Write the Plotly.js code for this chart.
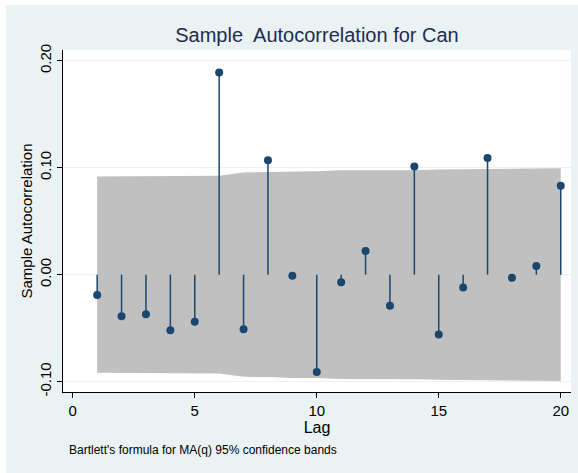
<!DOCTYPE html>
<html>
<head>
<meta charset="utf-8">
<script src="https://cdn.plot.ly/plotly-3.0.1.min.js"></script>
<style>
  html, body { margin: 0; padding: 0; background: #ffffff; }
  #chart { position: absolute; left: 6px; top: 5px; width: 572px; height: 468px; }
</style>
</head>
<body>
<div id="chart"></div>
<script>
// Lags
const lags = [1,2,3,4,5,6,7,8,9,10,11,12,13,14,15,16,17,18,19,20];
// Sample autocorrelation values
const acf = [-0.019,-0.039,-0.037,-0.052,-0.044,0.189,-0.051,0.107,-0.001,-0.091,
             -0.007,0.022,-0.029,0.101,-0.056,-0.012,0.109,-0.003,0.008,0.083];
// Half-width of Bartlett 95% confidence band at each lag
const band = [0.0918,0.0919,0.0920,0.0921,0.0922,0.0924,0.0955,0.0957,0.0966,0.0967,
              0.0975,0.0975,0.0976,0.0977,0.0983,0.0985,0.0987,0.0993,0.0993,0.0995];
// Tick labels
const yTickVals = [-0.1, 0, 0.1, 0.2];
const yTickText = ['-0.10', '0.00', '0.10', '0.20'];
const xTickVals = [0, 5, 10, 15, 20];

const navy = '#1a476f';

const bandX = lags.concat(lags.slice().reverse());
const bandY = band.concat(band.slice().reverse().map(v => -v));

const stemX = [], stemY = [];
lags.forEach((l, i) => { stemX.push(l, l, null); stemY.push(0, acf[i], null); });

const traces = [
  { x: bandX, y: bandY, type: 'scatter', mode: 'lines', fill: 'toself',
    fillcolor: '#c0c0c0', line: { width: 0, color: '#c0c0c0' }, hoverinfo: 'skip', showlegend: false },
  { x: stemX, y: stemY, type: 'scatter', mode: 'lines',
    line: { color: navy, width: 1.5 }, hoverinfo: 'skip', showlegend: false },
  { x: lags, y: acf, type: 'scatter', mode: 'markers',
    marker: { color: navy, size: 8 }, showlegend: false }
];

const layout = {
  width: 572, height: 468,
  paper_bgcolor: '#eaf2f3', plot_bgcolor: '#ffffff',
  margin: { l: 57, r: 7, t: 45, b: 81 },
  font: { family: 'Arial, "Liberation Sans", sans-serif', color: '#000000' },
  title: { text: 'Sample  Autocorrelation for Can', font: { size: 20, color: '#1e2d52' },
           x: 0.5, xref: 'paper', xanchor: 'center', y: 1, yref: 'container', yanchor: 'top', pad: { t: 23 } },
  xaxis: {
    range: [-0.4, 20.42], tickvals: xTickVals, ticks: 'outside', ticklen: 5, tickcolor: '#000',
    showline: true, linecolor: '#000', linewidth: 1, showgrid: false, zeroline: false,
    tickfont: { size: 15 },
    title: { text: 'Lag', font: { size: 16 }, standoff: 2 }
  },
  yaxis: {
    range: [-0.1097, 0.2100], tickvals: yTickVals, ticktext: yTickText, tickangle: -90,
    ticks: 'outside', ticklen: 5, tickcolor: '#000',
    showline: true, linecolor: '#000', linewidth: 1,
    showgrid: true, gridcolor: '#eaf2f3', gridwidth: 1.5, zeroline: false,
    tickfont: { size: 15 },
    title: { text: 'Sample Autocorrelation', font: { size: 15 }, standoff: 0 }
  },
  annotations: [
    { text: "Bartlett's formula for MA(q) 95% confidence bands", xref: 'paper', yref: 'paper',
      x: 0.0079, y: -0.1696, xanchor: 'left', yanchor: 'middle', showarrow: false,
      font: { size: 12, color: '#000' } }
  ]
};

Plotly.newPlot('chart', traces, layout, { displayModeBar: false, staticPlot: true });
</script>
</body>
</html>
